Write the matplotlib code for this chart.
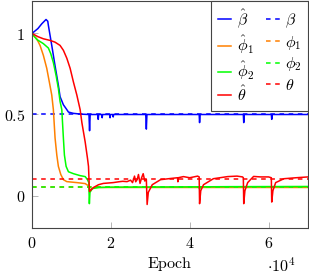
import matplotlib
matplotlib.use("Agg")
import matplotlib.pyplot as plt

plt.rcParams['mathtext.fontset'] = 'cm'
plt.rcParams['font.family'] = ['DejaVu Serif']

# ---------------- data ----------------
beta_true = 0.5
phi1_true = 0.05
phi2_true = 0.05
theta_true = 0.1

beta_epochs = [0, 1500, 2500, 3560, 4000, 4150, 5010, 5850, 6690, 7120, 7960, 8830, 9240, 10510,
               12500, 14450, 14600, 14750, 15500, 16700, 16800, 16900, 17700, 17800, 17900,
               19700, 19800, 19900, 20500, 20600, 20700, 24000, 28850, 29000, 29150, 35000,
               42400, 42500, 42650, 48000, 53600, 53700, 53850, 60700, 60800, 60950, 70000]
beta_hat = [1.0, 1.03, 1.06, 1.086, 1.075, 1.05, 0.926, 0.80, 0.68, 0.61, 0.56, 0.53, 0.515, 0.507,
            0.502, 0.50, 0.40, 0.50, 0.50, 0.50, 0.47, 0.50, 0.50, 0.48, 0.50,
            0.50, 0.48, 0.50, 0.50, 0.485, 0.50, 0.50, 0.50, 0.41, 0.50, 0.50,
            0.50, 0.45, 0.50, 0.50, 0.50, 0.45, 0.50, 0.50, 0.47, 0.50, 0.50]

phi1_epochs = [0, 180, 1200, 2040, 2880, 3740, 4400, 5010, 5420, 5850, 6290, 6690, 7300, 7960,
               8830, 11370, 13490, 14330, 14600, 15000, 16000, 20000, 70000]
phi1_hat = [1.0, 0.99, 0.967, 0.926, 0.865, 0.785, 0.70, 0.62, 0.53, 0.355, 0.25, 0.18, 0.13, 0.098,
            0.086, 0.08, 0.074, 0.06, 0.03, 0.04, 0.05, 0.05, 0.05]

phi2_epochs = [0, 1200, 2880, 4150, 4760, 5420, 6110, 6690, 7120, 7560, 7960, 8220, 8650, 9240,
               10510, 12210, 13490, 14070, 14400, 14550, 14700, 15300, 17000, 20000, 30000,
               42400, 42500, 42600, 50000, 70000]
phi2_hat = [1.0, 0.963, 0.937, 0.91, 0.875, 0.82, 0.74, 0.66, 0.58, 0.53, 0.355, 0.25, 0.18, 0.147,
            0.135, 0.123, 0.117, 0.098, 0.08, -0.05, 0.02, 0.043, 0.05, 0.052, 0.053,
            0.054, 0.04, 0.054, 0.055, 0.056]

theta_epochs = [0, 1500, 2880, 4580, 5850, 7120, 7960, 8830, 9670, 10510, 11370, 12210, 12650,
                13490, 14070, 14330, 14580, 15600, 16870, 18100, 20600, 22000, 23000, 24100,
                25000, 25500, 26000, 26300, 26700, 27000, 27400, 27800, 28200, 28600, 29000,
                29200, 29500, 30500, 32600, 35000, 36900, 37000, 37100, 38400, 40000, 42000,
                42400, 42500, 42800, 43500, 46000, 49600, 52000, 53400, 53600, 53700, 54000,
                54700, 56200, 58000, 60000, 60700, 60800, 61100, 61800, 63900, 67000, 70000]
theta_hat = [1.0, 0.98, 0.967, 0.957, 0.946, 0.926, 0.896, 0.847, 0.785, 0.70, 0.62, 0.53, 0.45,
             0.33, 0.23, 0.18, 0.025, 0.05, 0.067, 0.075, 0.08, 0.085, 0.088, 0.086,
             0.095, 0.08, 0.12, 0.085, 0.10, 0.13, 0.075, 0.11, 0.135, 0.09, 0.10,
             -0.055, 0.02, 0.067, 0.098, 0.105, 0.11, 0.085, 0.11, 0.117, 0.11, 0.12,
             0.115, -0.05, 0.03, 0.067, 0.104, 0.117, 0.12, 0.115, 0.11, -0.05, 0.03,
             0.08, 0.118, 0.115, 0.115, 0.11, -0.04, 0.03, 0.08, 0.104, 0.11, 0.115]

x_ticks = [0, 20000, 40000, 60000]
x_tick_labels = ['$0$', '$2$', '$4$', '$6$']
y_ticks = [0, 0.5, 1]
y_tick_labels = ['$0$', '$0.5$', '$1$']

# ---------------- plot ----------------
BLUE = (0, 0, 1)
ORANGE = (1, 0.5, 0)
GREEN = (0, 1, 0)
RED = (1, 0, 0)
LW = 1.1
DASH = (0, (3, 3))

fig = plt.figure(figsize=(3.09, 2.77), dpi=100)
ax = fig.add_axes([32 / 309, 49 / 277, 276 / 309, 227 / 277])

h_bh, = ax.plot(beta_epochs, beta_hat, color=BLUE, lw=LW)
h_b = ax.axhline(beta_true, color=BLUE, lw=LW, ls=DASH)
h_p1h, = ax.plot(phi1_epochs, phi1_hat, color=ORANGE, lw=LW)
h_p1 = ax.axhline(phi1_true, color=ORANGE, lw=LW, ls=DASH)
h_p2h, = ax.plot(phi2_epochs, phi2_hat, color=GREEN, lw=LW)
h_p2 = ax.axhline(phi2_true, color=GREEN, lw=LW, ls=DASH)
h_th, = ax.plot(theta_epochs, theta_hat, color=RED, lw=LW)
h_t = ax.axhline(theta_true, color=RED, lw=LW, ls=DASH)

ax.set_xlim(0, 70000)
ax.set_ylim(-0.2, 1.2)
ax.set_xticks(x_ticks)
ax.set_xticklabels(x_tick_labels)
ax.set_yticks(y_ticks)
ax.set_yticklabels(y_tick_labels)
ax.tick_params(direction='in', length=4, width=0.6, color='#aaaaaa', labelsize=11.5, pad=5)
for s in ax.spines.values():
    s.set_color('#444444')
    s.set_linewidth(0.8)

handles = [h_bh, h_p1h, h_p2h, h_th, h_b, h_p1, h_p2, h_t]
labels = [r'$\hat{\beta}$', r'$\hat{\phi}_1$', r'$\hat{\phi}_2$', r'$\hat{\theta}$',
          r'$\beta$', r'$\phi_1$', r'$\phi_2$', r'$\theta$']
leg = ax.legend(handles, labels, ncol=2, loc='upper right', fontsize=11.5,
                frameon=True, fancybox=False, framealpha=1, edgecolor='#444444',
                borderaxespad=0, handlelength=0.85, handletextpad=0.35,
                columnspacing=0.75, labelspacing=0.22, borderpad=0.4)
leg.get_frame().set_linewidth(0.8)

fig.text(170 / 309, 1 - 264 / 277, r'$\mathrm{Epoch}$', ha='center', va='center', fontsize=11.5)
fig.text(281 / 309, 1 - 266 / 277, r'$\cdot 10^4$', ha='center', va='center', fontsize=11.5)

fig.savefig('out.png', dpi=100)
